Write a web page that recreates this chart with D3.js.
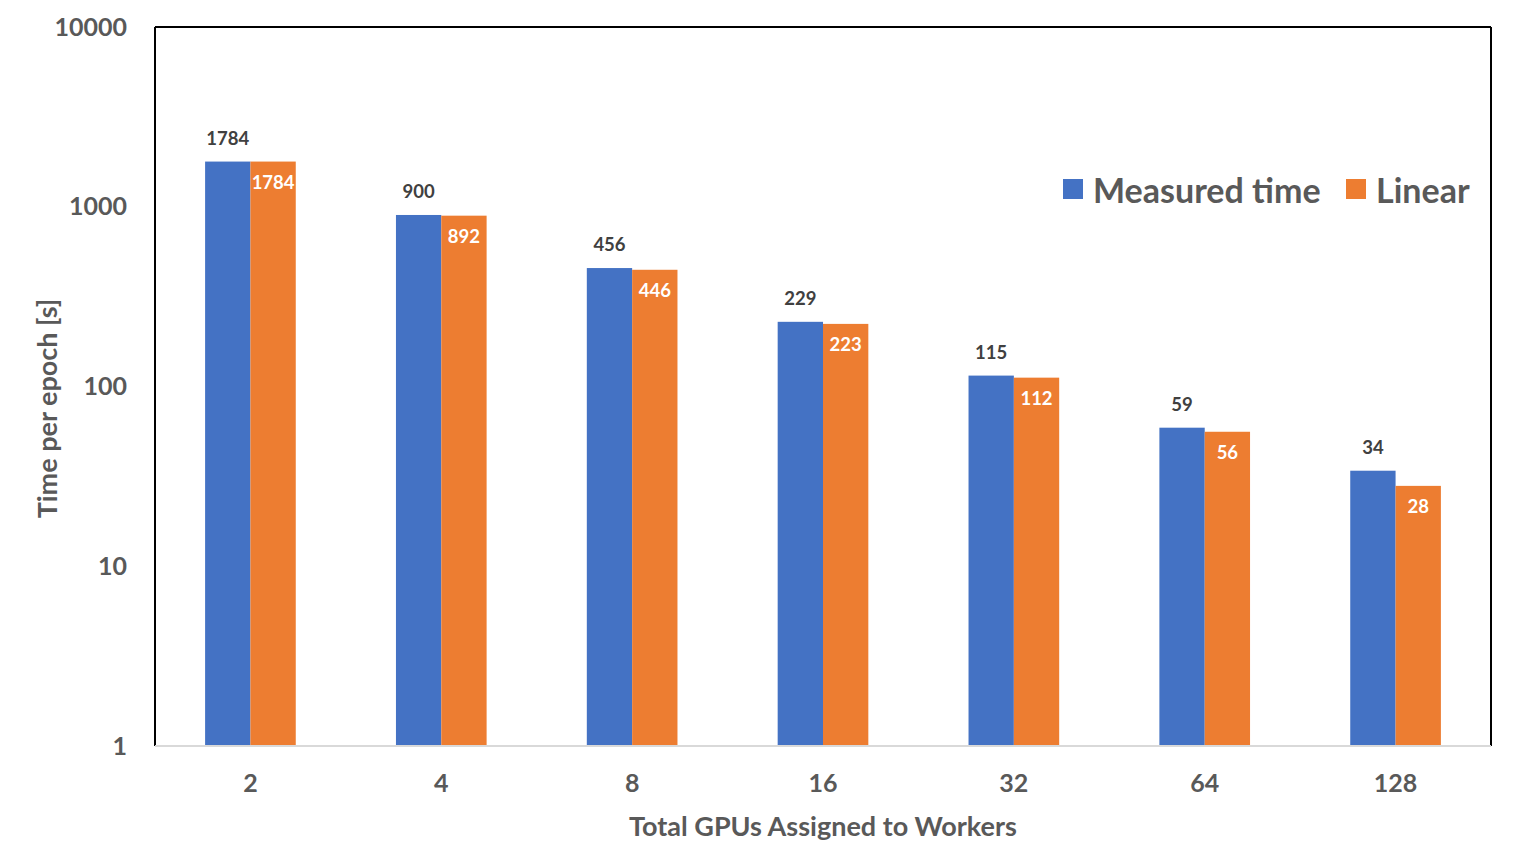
<!DOCTYPE html>
<html>
<head>
<meta charset="utf-8">
<script src="https://cdn.jsdelivr.net/npm/d3@7"></script>
<style>
  html, body { margin: 0; padding: 0; background: #fff; }
  text { font-family: Lato, "Open Sans", sans-serif; font-weight: bold; }
</style>
</head>
<body>
<svg id="chart" width="1520" height="854"></svg>
<script>
const categories = ["2", "4", "8", "16", "32", "64", "128"];
const measured = [1784, 900, 456, 229, 115, 59, 34];
const linear = [1784, 892, 446, 223, 112, 56, 28];
const seriesNames = ["Measured time", "Linear"];
const seriesColors = ["#4472c4", "#ed7d31"];
const yTicks = [1, 10, 100, 1000, 10000];

const svg = d3.select("#chart");
const m = { left: 155, right: 1491, top: 27, bottom: 746 };

const x = d3.scaleBand().domain(categories).range([m.left, m.right]).paddingInner(0.525).paddingOuter(0.2625);
const y = d3.scaleLog().domain([1, 10000]).range([m.bottom, m.top]);
const xs = d3.scaleBand().domain([0, 1]).range([0, x.bandwidth()]);

const data = [measured, linear];

// bars
data.forEach((vals, si) => {
  svg.append("g").selectAll("rect").data(vals).join("rect")
    .attr("x", (d, i) => x(categories[i]) + xs(si))
    .attr("width", xs.bandwidth())
    .attr("y", d => y(d))
    .attr("height", d => m.bottom - y(d))
    .attr("fill", seriesColors[si]);
});

// labels
svg.append("g").selectAll("text").data(measured).join("text")
  .attr("x", (d, i) => x(categories[i]) + xs(0) + xs.bandwidth() / 2)
  .attr("y", d => y(d) - 17)
  .attr("text-anchor", "middle")
  .attr("font-size", 18.5)
  .attr("fill", "#404040")
  .text(d => d);
svg.append("g").selectAll("text").data(linear).join("text")
  .attr("x", (d, i) => x(categories[i]) + xs(1) + xs.bandwidth() / 2)
  .attr("y", d => y(d) + 27)
  .attr("text-anchor", "middle")
  .attr("font-size", 18.5)
  .attr("fill", "#ffffff")
  .text(d => d);

// frame
svg.append("line").attr("x1", m.left).attr("x2", m.right).attr("y1", m.top).attr("y2", m.top)
  .attr("stroke", "#000").attr("stroke-width", 2);
svg.append("line").attr("x1", m.left).attr("x2", m.left).attr("y1", m.top).attr("y2", m.bottom)
  .attr("stroke", "#000").attr("stroke-width", 2);
svg.append("line").attr("x1", m.right).attr("x2", m.right).attr("y1", m.top).attr("y2", m.bottom)
  .attr("stroke", "#000").attr("stroke-width", 2);

// x axis
const xAxis = svg.append("g").attr("transform", `translate(0,${m.bottom})`)
  .call(d3.axisBottom(x).tickSize(0).tickPadding(28));
xAxis.select(".domain").attr("stroke", "#d9d9d9").attr("stroke-width", 2)
  .attr("d", `M${m.left},0H${m.right}`);
xAxis.selectAll("text").attr("font-size", 25).attr("fill", "#595959")
  .attr("font-family", "Lato, 'Open Sans', sans-serif").attr("font-weight", "bold");

// y axis
const yAxis = svg.append("g").attr("transform", `translate(${m.left},0)`)
  .call(d3.axisLeft(y).tickValues(yTicks).tickFormat(d3.format("d")).tickSize(0).tickPadding(28));
yAxis.select(".domain").remove();
yAxis.selectAll("text").attr("font-size", 25).attr("fill", "#595959")
  .attr("font-family", "Lato, 'Open Sans', sans-serif").attr("font-weight", "bold");

// axis titles
svg.append("text").attr("x", (m.left + m.right) / 2).attr("y", 836)
  .attr("text-anchor", "middle").attr("font-size", 27).attr("fill", "#595959")
  .text("Total GPUs Assigned to Workers");
svg.append("text").attr("transform", `translate(57,${(m.top + m.bottom) / 2 + 22}) rotate(-90)`)
  .attr("text-anchor", "middle").attr("font-size", 27).attr("fill", "#595959")
  .text("Time per epoch [s]");

// legend
const legendItems = [{ x: 1063, tx: 1093 }, { x: 1346, tx: 1376 }];
legendItems.forEach((it, i) => {
  svg.append("rect").attr("x", it.x).attr("y", 179).attr("width", 20).attr("height", 20).attr("fill", seriesColors[i]);
  svg.append("text").attr("x", it.tx).attr("y", 203).attr("font-size", 34).attr("fill", "#595959").text(seriesNames[i]);
});
</script>
</body>
</html>
